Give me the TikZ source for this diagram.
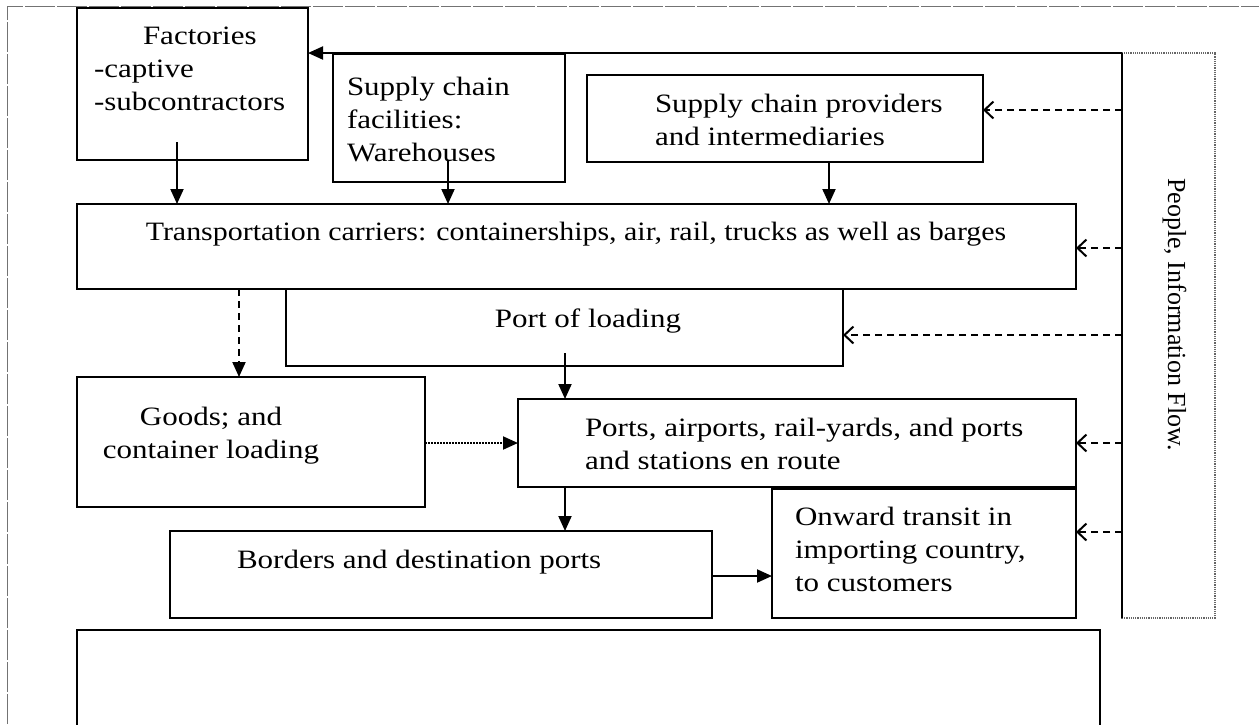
\documentclass[tikz,border=0pt]{standalone}
\usepackage{fontspec}
\setmainfont{Liberation Serif}[FakeStretch=1.17]
\newfontfamily\rotfont{Liberation Serif}
\usetikzlibrary{arrows.meta}
\begin{document}
\begin{tikzpicture}[x=1pt,y=-1pt,
  box/.style={draw=black, line width=2pt, rectangle, inner sep=0pt, outer sep=0pt, anchor=north west},
  txt/.style={inner sep=0pt, outer sep=0pt, font=\fontsize{26.5}{33}\selectfont},
  arr/.style={line width=2pt, -{Triangle[length=15pt,width=13pt]}},
  darr/.style={line width=2pt, dash pattern=on 7pt off 5pt, -{Straight Barb[length=9pt,width=17pt,line width=2pt]}},
  frame/.style={draw=black!55, line width=1pt, dash pattern=on 30pt off 2pt}
]
\useasboundingbox (0,0) rectangle (1259,724);
% outer frame
\draw[frame] (7,724) -- (7,6) -- (1259,6);

% boxes
\node[box, minimum width=231pt, minimum height=152pt] (fact) at (77,8) {};
\node[box, minimum width=232pt, minimum height=128pt] (ware) at (333,54) {};
\node[box, minimum width=396pt, minimum height=87pt] (prov) at (587,75) {};
\node[box, minimum width=999pt, minimum height=85pt] (trans) at (77,204) {};
\node[box, minimum width=557pt, minimum height=77pt] (pol) at (286,289) {};
\node[box, minimum width=348pt, minimum height=130pt] (goods) at (77,377) {};
\node[box, minimum width=558pt, minimum height=88pt] (ports) at (518,399) {};
\node[box, minimum width=542pt, minimum height=87pt] (border) at (170,531) {};
\node[box, minimum width=304pt, minimum height=129pt] (onward) at (772,489) {};
\node[box, draw=black!60, line width=1.2pt, densely dotted, minimum width=93pt, minimum height=565pt] (info) at (1122,53) {};
\begin{scope}
\clip (0,0) rectangle (1259,724);
\node[box, minimum width=1023pt, minimum height=130pt] (bottom) at (77,630) {};
\end{scope}

% texts
\node[txt, anchor=north west, align=left] (tfact) at (94,27) {\hspace*{49pt}Factories\\-captive\\-subcontractors};
\node[txt, anchor=north west, align=left] (tware) at (347,77) {Supply chain\\facilities:\\Warehouses};
\node[txt, anchor=north west, align=left] (tprov) at (655,94) {Supply chain providers\\and intermediaries};
\node[txt, anchor=base, xscale=0.965] (ttrans) at (576,240) {Transportation carriers: containerships, air, rail, trucks as well as barges};
\node[txt, anchor=base] (tpol) at (588,327) {Port of loading};
\node[txt, anchor=north, align=center] (tgoods) at (211,407) {Goods; and\\container loading};
\node[txt, anchor=north west, align=left] (tports) at (585,418) {Ports, airports, rail-yards, and ports\\and stations en route};
\node[txt, anchor=base west] (tborder) at (237,568) {Borders and destination ports};
\node[txt, anchor=north west, align=left] (tonward) at (795,507) {Onward transit in\\importing country,\\to customers};
\node[inner sep=0pt, font=\rotfont\fontsize{26}{31}\selectfont, rotate=-90, anchor=base west] (tinfo) at (1168,178) {People, Information Flow.};

% info line (left side of info box, solid)
\draw[line width=2pt] (info.north west) -- (info.south west);
\draw[arr] (info.north west) -- (info.north west -| fact.east);

% solid downward arrows
\coordinate (f1) at (177,142);
\coordinate (w1) at (448,160);
\coordinate (p1) at (829,162);
\coordinate (l1) at (565,353);
\draw[arr] (f1) -- (f1 |- trans.north);
\draw[arr] (w1) -- (w1 |- trans.north);
\draw[arr] (p1) -- (p1 |- trans.north);
\draw[arr] (l1) -- (l1 |- ports.north);
\coordinate (s1) at (565,487);
\draw[arr] (s1) -- (s1 |- border.north);
\coordinate (b1) at (712,576);
\draw[arr] (b1) -- (b1 -| onward.west);

% dashed / dotted flows
\coordinate (t1) at (239,289);
\draw[line width=2pt, dash pattern=on 7pt off 5pt, -{Triangle[length=15pt,width=13pt]}] (t1) -- (t1 |- goods.north);
\coordinate (g1) at (425,443);
\draw[line width=2pt, densely dotted, -{Triangle[length=15pt,width=13pt]}] (g1) -- (g1 -| ports.west);

% information arrows
\coordinate (i1) at (1122,110);
\coordinate (i2) at (1122,248);
\coordinate (i3) at (1122,335);
\coordinate (i4) at (1122,443);
\coordinate (i5) at (1122,532);
\draw[darr] (i1) -- (i1 -| prov.east);
\draw[darr] (i2) -- (i2 -| trans.east);
\draw[darr] (i3) -- (i3 -| pol.east);
\draw[darr] (i4) -- (i4 -| ports.east);
\draw[darr] (i5) -- (i5 -| onward.east);
\end{tikzpicture}
\end{document}
